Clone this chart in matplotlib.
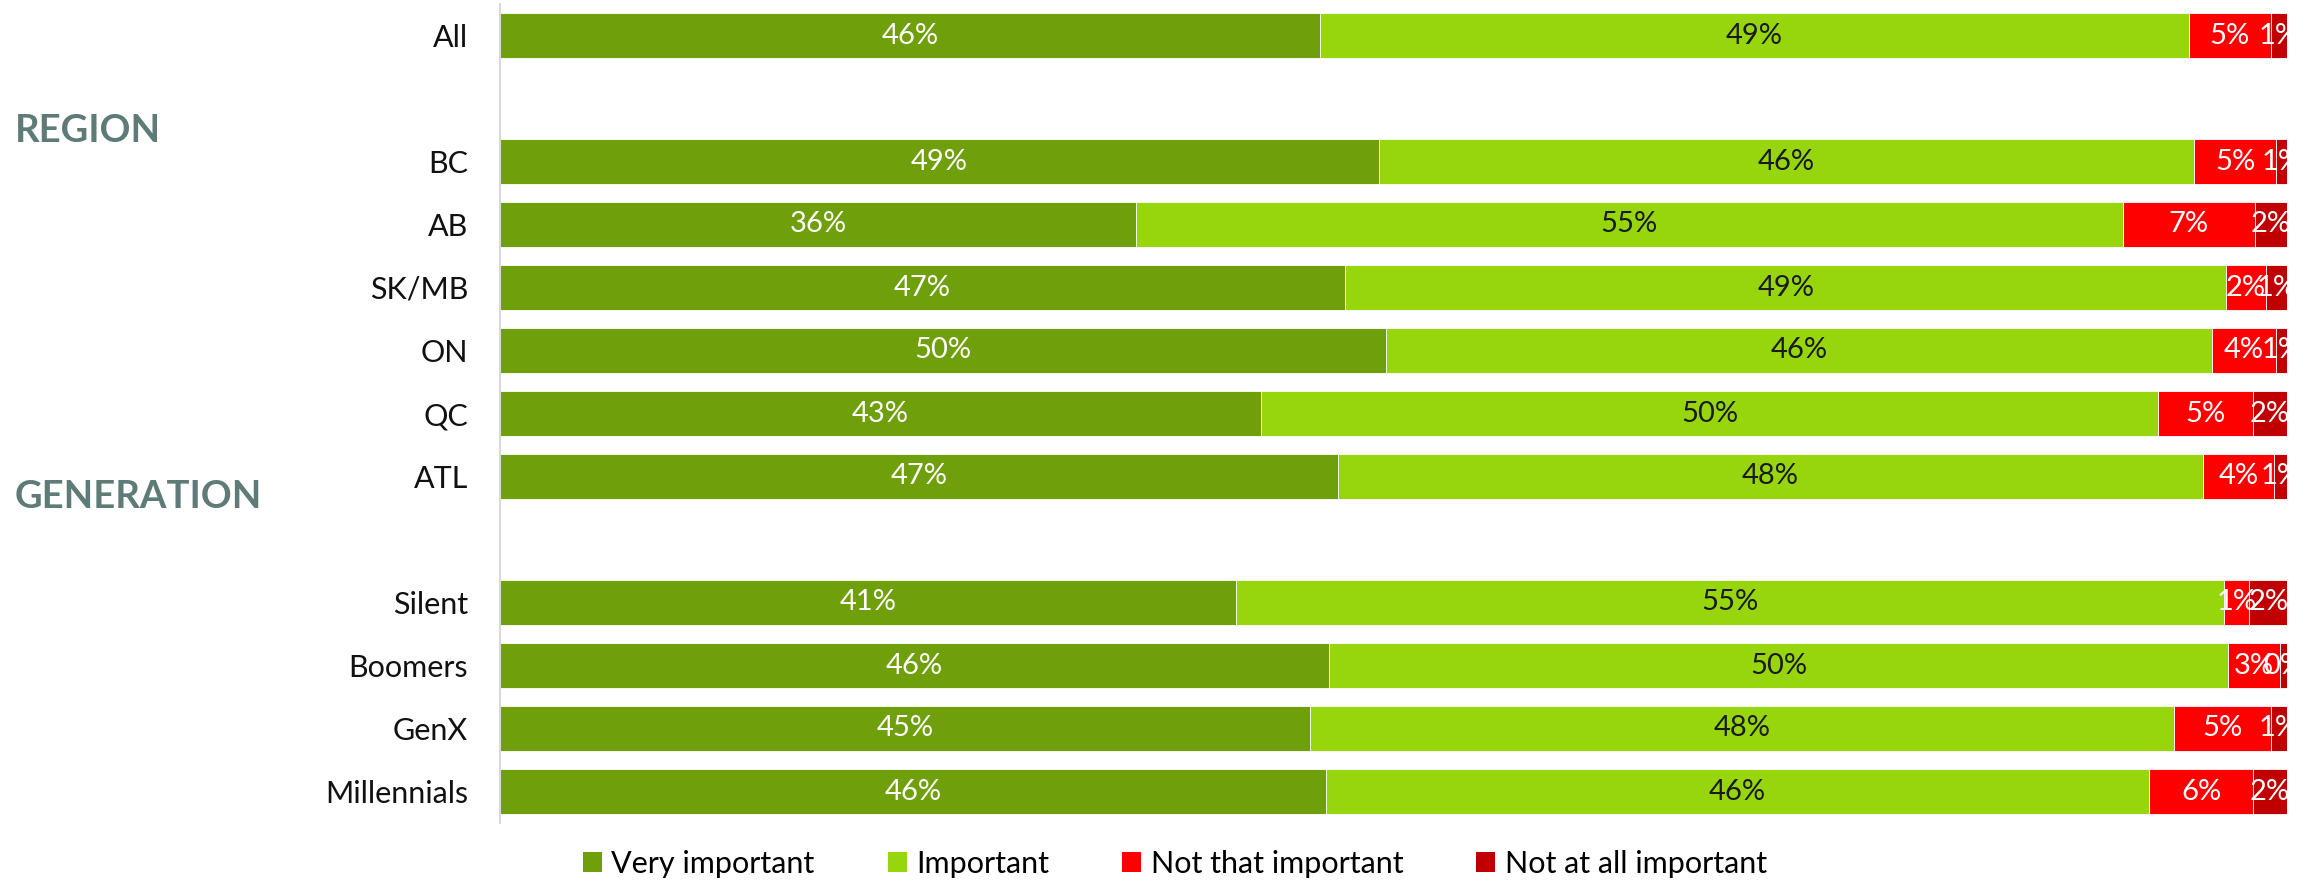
import matplotlib
matplotlib.use("Agg")
import matplotlib.pyplot as plt
from matplotlib.patches import Patch

plt.rcParams['font.family'] = ['Lato', 'DejaVu Sans']

categories = ["All", "BC", "AB", "SK/MB", "ON", "QC", "ATL",
              "Silent", "Boomers", "GenX", "Millennials"]
group_of = ["", "REGION", "REGION", "REGION", "REGION", "REGION", "REGION",
            "GENERATION", "GENERATION", "GENERATION", "GENERATION"]
very_important = [45.9, 49.2, 35.6, 47.3, 49.6, 42.6, 46.9, 41.2, 46.4, 45.3, 46.2]
important = [48.6, 45.6, 55.2, 49.3, 46.2, 50.2, 48.4, 55.3, 50.3, 48.4, 46.1]
not_that_important = [4.6, 4.6, 7.4, 2.2, 3.6, 5.3, 4.0, 1.4, 2.9, 5.4, 5.8]
not_at_all_important = [0.9, 0.6, 1.8, 1.2, 0.6, 1.9, 0.7, 2.1, 0.4, 0.9, 1.9]
series_names = ["Very important", "Important", "Not that important", "Not at all important"]

colors = ["#6F9F0A", "#97D50C", "#FF0000", "#C00000"]
label_colors = ["white", "#1a1a1a", "white", "white"]

# row positions: blank slot between groups
rows = []
pos = 0
prev = None
for g in group_of:
    if prev is not None and g != prev:
        pos += 1
    rows.append(pos)
    pos += 1
    prev = g

fig = plt.figure(figsize=(23.1, 8.82), dpi=100)
ax = fig.add_axes([500/2310, 1-823/882, (2287-500)/2310, (823-4)/882])

series = [very_important, important, not_that_important, not_at_all_important]
left = [0.0]*len(categories)
for vals, col, lc in zip(series, colors, label_colors):
    ax.barh(rows, vals, left=left, height=0.73, color=col,
            edgecolor="white", linewidth=0.6)
    for r, v, l in zip(rows, vals, left):
        ax.text(l + v/2, r, f"{v:.0f}%", ha="center", va="center",
                color=lc, fontsize=21, clip_on=True)
    left = [a + b for a, b in zip(left, vals)]

ax.set_xlim(0, 100)
ax.set_ylim(rows[-1] + 0.5, -0.5)
ax.set_yticks(rows)
ax.set_yticklabels(categories, fontsize=22, color="#111111")
ax.tick_params(axis="y", length=0, pad=23)
ax.set_xticks([])
for s in ["top", "right", "bottom"]:
    ax.spines[s].set_visible(False)
ax.spines["left"].set_color("#D9D9D9")
ax.spines["left"].set_linewidth(1.5)

# group headings (offset in row units from the group's first row)
heading_offsets = {"REGION": -0.48, "GENERATION": -1.67}
groups_seen = []
for g, r in zip(group_of, rows):
    if g and g not in groups_seen:
        groups_seen.append(g)
        ax.text(-0.2715, r + heading_offsets[g], g, transform=ax.get_yaxis_transform(),
                ha="left", va="center", fontsize=27.5, fontweight="bold",
                color="#5F7B77")

handles = [Patch(facecolor=c, edgecolor="none") for c in colors]
fig.legend(handles, series_names, loc="center", bbox_to_anchor=(1175/2310, 1-864/882),
           ncol=4, frameon=False, fontsize=22, handlelength=0.62, handleheight=0.62,
           handletextpad=0.3, columnspacing=2.4)

fig.savefig("out.png", dpi=100)
